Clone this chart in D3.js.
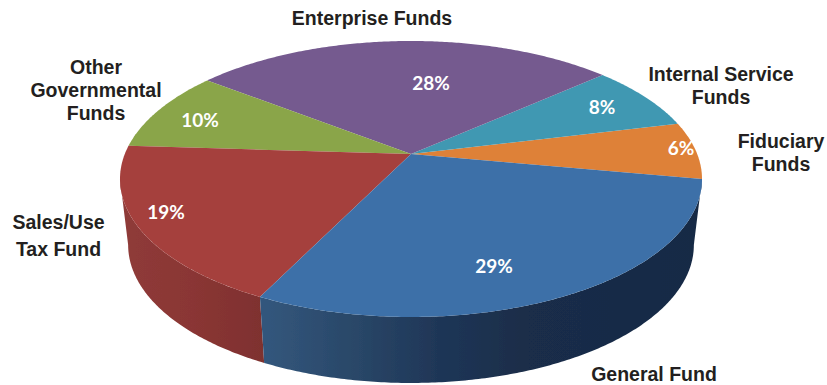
<!DOCTYPE html>
<html><head><meta charset="utf-8">
<script src="https://cdn.jsdelivr.net/npm/d3@7"></script>
<style>html,body{margin:0;background:#fff}svg{display:block}</style></head>
<body><svg id="c" width="827" height="385"></svg>
<script>
const categories=["Fiduciary Funds","Internal Service Funds","Enterprise Funds","Other Governmental Funds","Sales/Use Tax Fund","General Fund"];
const shares=[6.7,7.7,28.0,9.5,18.7,29.4];
const percentLabels=["6%","8%","28%","10%","19%","29%"];
const topColors=["#de8138","#3f98b2","#745a8f","#8aa548","#a5403e","#3c70a8"];

const svg=d3.select("#c");
const rad=d=>d*Math.PI/180;
const start=rad(100.4);
const pie=d3.pie().sort(null).startAngle(start).endAngle(start-2*Math.PI);
const arcs=pie(shares);

// perspective projection of the unit disc
const C=0.181;
const xScale=d3.scaleLinear().domain([-1,1]).range([411-286.2,411+286.2]);
const yScale=d3.scaleLinear().domain([-1,1]).range([154+105.6,154-105.6]);
const rimTop=(a)=>{const u=Math.sin(a),v=Math.cos(a),w=1+C*v;
  return [xScale(u/w),yScale(v)/w];};
const rimBottom=(a)=>{const p=rimTop(a);return [411+(p[0]-411)*0.972,p[1]+66];};
const samples=(a0,a1,f)=>{const n=Math.max(2,Math.ceil(Math.abs(a1-a0)/0.01));
  return d3.range(n+1).map(i=>f(a0+(a1-a0)*i/n));};
const line=d3.line();

const defs=svg.append("defs");
const g1=defs.append("linearGradient").attr("id","wallRed").attr("gradientUnits","userSpaceOnUse")
  .attr("x1",120).attr("x2",265).attr("y1",0).attr("y2",0);
[["0","#8f3b39"],["0.5","#8a3634"],["1","#7e302f"]].forEach(s=>g1.append("stop").attr("offset",s[0]).attr("stop-color",s[1]));
const g2=defs.append("linearGradient").attr("id","wallBlue").attr("gradientUnits","userSpaceOnUse")
  .attr("x1",262).attr("x2",702).attr("y1",0).attr("y2",0);
[["0","#33577d"],["0.2","#2a4869"],["0.4","#1f3657"],["0.6","#1a2d49"],["1","#172a45"]].forEach(s=>g2.append("stop").attr("offset",s[0]).attr("stop-color",s[1]));
defs.append("filter").attr("id","soft").append("feGaussianBlur").attr("stdDeviation",0.5);

// side walls: only the front half of the rim, up to the silhouette tangent
const wallFill={"Sales/Use Tax Fund":"url(#wallRed)","General Fund":"url(#wallBlue)"};
const walls=svg.append("g").attr("filter","url(#soft)");
arcs.forEach((d,i)=>{
  const name=categories[i]; if(!wallFill[name])return;
  const shift=2*Math.PI*Math.ceil((rad(90)-d.endAngle)/(2*Math.PI));
  const a0=Math.min(d.startAngle+shift,rad(259.6)),a1=d.endAngle+shift;
  const pts=samples(a0,a1,rimTop).concat(samples(a1,a0,rimBottom));
  walls.append("path").attr("d",line(pts)+"Z").attr("fill",wallFill[name]);
});
// slices
const faces=svg.append("g").attr("filter","url(#soft)");
arcs.forEach((d,i)=>{
  const pts=[[411,154]].concat(samples(d.startAngle,d.endAngle,rimTop));
  faces.append("path").attr("d",line(pts)+"Z").attr("fill",topColors[i]);
});
// percentage labels
const pctPos=[[681,148],[602,107],[431,83],[200,120],[166,212],[494,266]];
svg.append("g").selectAll("text").data(percentLabels).join("text")
  .attr("x",(d,i)=>pctPos[i][0]).attr("y",(d,i)=>pctPos[i][1]+6.5)
  .attr("text-anchor","middle").attr("fill","#fff")
  .attr("font-family","Lato").attr("font-weight",700).attr("font-size",19).text(d=>d);
// category labels
const nameLines=[["Fiduciary","Funds"],["Internal Service","Funds"],["Enterprise Funds"],["Other","Governmental","Funds"],["Sales/Use","Tax Fund"],["General Fund"]];
const namePos=[[781,148,23],[721,81,23],[372,25,0],[96,74,23],[58.5,229,27],[654,380.5,0]];
const names=svg.append("g").attr("font-family","Liberation Sans").attr("font-weight",700)
  .attr("font-size",19.5).attr("fill","#231f20").attr("text-anchor","middle");
nameLines.forEach((ls,i)=>ls.forEach((t,j)=>names.append("text")
  .attr("x",namePos[i][0]).attr("y",namePos[i][1]+j*namePos[i][2]).text(t)));
</script></body></html>
